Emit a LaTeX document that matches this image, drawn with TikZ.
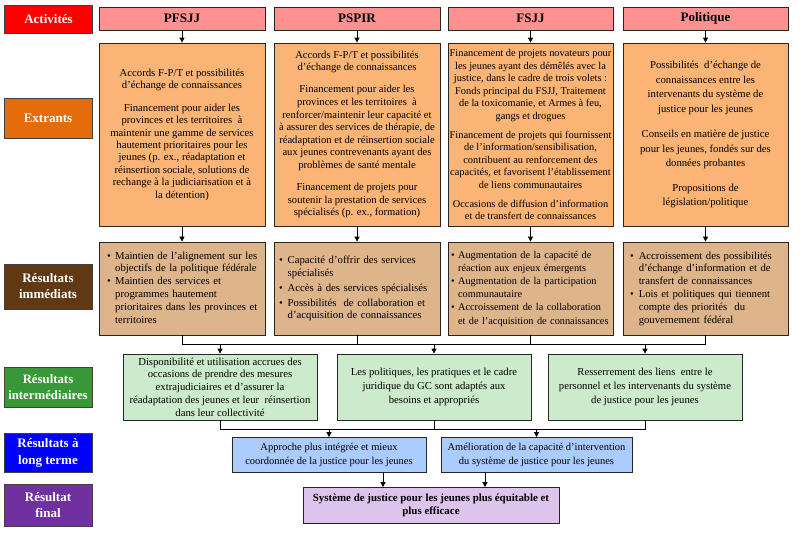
\documentclass[tikz,border=0pt]{standalone}
\usepackage{fontspec}
\setmainfont{Liberation Serif}
\usetikzlibrary{arrows.meta,calc}
\definecolor{cRed}{RGB}{255,0,0}
\definecolor{cPink}{RGB}{255,145,145}
\definecolor{cOrange}{RGB}{228,108,10}
\definecolor{cOut}{RGB}{250,180,117}
\definecolor{cBrown}{RGB}{96,56,19}
\definecolor{cTan}{RGB}{222,180,139}
\definecolor{cGreen}{RGB}{56,152,56}
\definecolor{cLGreen}{RGB}{204,235,204}
\definecolor{cBlue}{RGB}{0,0,255}
\definecolor{cLBlue}{RGB}{170,204,255}
\definecolor{cPurple}{RGB}{112,48,160}
\definecolor{cLPurple}{RGB}{220,196,236}
\newcommand{\mybul}{\textbullet}
\begin{document}
\begin{tikzpicture}[x=1pt,y=-1pt,
  base/.style={draw=black!85, line width=0.8pt, inner sep=0pt, align=center, font=\fontsize{10.7}{12.4}\selectfont},
  lab/.style={base, draw=black!75, line width=1pt, fill=#1, text=white, minimum width=88pt, font=\bfseries\fontsize{13}{16}\selectfont},
  hdr/.style={base, fill=cPink, minimum height=23pt, font=\bfseries\fontsize{13}{15}\selectfont},
  outbox/.style={base, fill=cOut, minimum height=183pt},
  imm/.style={base, fill=cTan, minimum height=93pt, align=left, font=\fontsize{10.7}{12.8}\selectfont},
  inter/.style={base, fill=cLGreen, minimum width=194pt, minimum height=66pt},
  longt/.style={base, fill=cLBlue, minimum height=35pt, font=\fontsize{10.5}{14.5}\selectfont},
  finbox/.style={base, fill=cLPurple, minimum height=36pt, font=\bfseries\fontsize{10.9}{13}\selectfont},
  conn/.style={draw=black, line width=0.8pt},
  arr/.style={conn, -{Triangle[length=5pt,width=5pt]}}
]
\useasboundingbox (0,0) rectangle (800,541);
\fill[white] (0,0) rectangle (800,541);

% left labels
\node[lab=cRed, minimum height=28pt] (lact) at (48.5,19) {Activités};
\node[lab=cOrange, minimum height=40pt] (lext) at (48,118) {Extrants};
\node[lab=cBrown, minimum height=45pt] (limm) at (48,286.5) {Résultats\\immédiats};
\node[lab=cGreen, minimum height=40pt, font=\bfseries\fontsize{12.8}{16}\selectfont] (lint) at (48,387) {Résultats\\intermédiaires};
\node[lab=cBlue, minimum height=39pt, font=\bfseries\fontsize{13}{17}\selectfont] (llt) at (48,452.5) {Résultats à\\long terme};
\node[lab=cPurple, minimum height=42pt] (lfin) at (48,505) {Résultat\\final};

% headers
\node[hdr, minimum width=166pt] (h1) at (182,18.5) {PFSJJ};
\node[hdr, minimum width=166pt] (h2) at (357,18.5) {PSPIR};
\node[hdr, minimum width=165pt] (h3) at (530.5,18.5) {FSJJ};
\node[hdr, minimum width=165pt] (h4) at (705.5,18.5) {Politique};

% outputs
\node[outbox, minimum width=166pt] (o1) at (182,134.5) {Accords F-P/T et possibilités\\ d’échange de connaissances\\[10.5pt]
Financement pour aider les\\ provinces et les territoires\ \ à\\ maintenir une gamme de services\\ hautement prioritaires pour les\\ jeunes (p. ex., réadaptation et\\ réinsertion sociale, solutions de\\ rechange à la judiciarisation et à\\ la détention)};
\node[outbox, minimum width=166pt, font=\fontsize{10.6}{12.6}\selectfont] (o2) at (357,134.5) {Accords F-P/T et possibilités\\ d’échange de connaissances\\[9.5pt]
Financement pour aider les\\ provinces et les territoires\ \ à\\ renforcer/maintenir leur capacité et\\ à assurer des services de thérapie, de\\ réadaptation et de réinsertion sociale\\ aux jeunes contrevenants ayant des\\ problèmes de santé mentale\\[9.5pt]
Financement de projets pour\\ soutenir la prestation de services\\ spécialisés (p. ex., formation)};
\node[outbox, minimum width=165pt, font=\fontsize{10.4}{12.5}\selectfont] (o3) at (530.5,134.5) {Financement de projets novateurs pour\\ les jeunes ayant des démêlés avec la\\ justice, dans le cadre de trois volets :\\ Fonds principal du FSJJ, Traitement\\ de la toxicomanie, et Armes à feu,\\ gangs et drogues\\[6.5pt]
Financement de projets qui fournissent\\ de l’information/sensibilisation,\\ contribuent au renforcement des\\ capacités, et favorisent l’établissement\\ de liens communautaires\\[6.5pt]
Occasions de diffusion d’information\\ et de transfert de connaissances};
\node[outbox, minimum width=165pt, font=\fontsize{10.7}{14.5}\selectfont] (o4) at (705.5,134.5) {Possibilités\ \ d’échange de\\ connaissances entre les\\ intervenants du système de\\ justice pour les jeunes\\[11pt]
Conseils en matière de justice\\ pour les jeunes, fondés sur des\\ données probantes\\[10pt]
Propositions de\\ législation/politique};

% immediate outcomes
\node[imm, inner xsep=8pt, text width=150pt] (i1) at (182,288.5) {\noindent\begin{tabular}{@{}l@{\hspace{4.5pt}}l@{}}
\mybul & Maintien de l’alignement sur les\\
 & objectifs de la politique fédérale\\
\mybul & Maintien des services et\\
 & programmes hautement\\
 & prioritaires dans les provinces et\\
 & territoires
\end{tabular}};
\node[imm, inner xsep=5pt, text width=156pt] (i2) at (357,288.5) {\noindent\begin{tabular}{@{}l@{\hspace{5pt}}l@{}}
\mybul & Capacité d’offrir des services\\
 & spécialisés\\[2.5pt]
\mybul & Accès à des services spécialisés\\[2pt]
\mybul & Possibilités\ \ de collaboration et\\
 & d’acquisition de connaissances
\end{tabular}};
\node[imm, inner xsep=3pt, text width=159pt, font=\fontsize{10.3}{13.2}\selectfont] (i3) at (530.5,288.5) {\noindent\begin{tabular}{@{}l@{\hspace{3.5pt}}l@{}}
\mybul & Augmentation de la capacité de\\
 & réaction aux enjeux émergents\\
\mybul & Augmentation de la participation\\
 & communautaire\\
\mybul & Accroissement de la collaboration\\
 & et de l’acquisition de connaissances
\end{tabular}};
\node[imm, inner xsep=7pt, text width=151pt] (i4) at (705.5,288.5) {\noindent\begin{tabular}{@{}l@{\hspace{5pt}}l@{}}
\mybul & Accroissement des possibilités\\
 & d’échange d’information et de\\
 & transfert de connaissances\\
\mybul & Lois et politiques qui tiennent\\
 & compte des priorités\ \ du\\
 & gouvernement fédéral
\end{tabular}};

% intermediate outcomes
\node[inter, font=\fontsize{10.7}{12.8}\selectfont] (m1) at (220,387) {Disponibilité et utilisation accrues des\\ occasions de prendre des mesures\\ extrajudiciaires et d’assurer la\\ réadaptation des jeunes et leur\ \ réinsertion\\ dans leur collectivité};
\node[inter, font=\fontsize{10.7}{14}\selectfont] (m2) at (434,387) {Les politiques, les pratiques et le cadre\\ juridique du GC sont adaptés aux\\ besoins et appropriés};
\node[inter, font=\fontsize{10.7}{14}\selectfont] (m3) at (645,387) {Resserrement des liens\ \ entre le\\ personnel et les intervenants du système\\ de justice pour les jeunes};

% long-term outcomes
\node[longt, minimum width=194pt] (t1) at (329,455) {Approche plus intégrée et mieux\\ coordonnée de la justice pour les jeunes};
\node[longt, minimum width=191pt] (t2) at (536.5,455) {Amélioration de la capacité d’intervention\\ du système de justice pour les jeunes};

% final outcome
\node[finbox, minimum width=256pt] (fin) at (431,505.5) {Système de justice pour les jeunes plus équitable et\\ plus efficace};

% connectors
\foreach \k in {1,2,3,4}{
  \draw[arr] (h\k.south) -- (o\k.north);
  \draw[arr] (o\k.south) -- (i\k.north);
}
\coordinate (bus1) at (0,344);
\coordinate (bus2) at (0,429);
\draw[conn] (i1.south) -- (i1.south |- bus1) -- (i4.south |- bus1) -- (i4.south);
\draw[conn] (i2.south) -- (i2.south |- bus1);
\draw[conn] (i3.south) -- (i3.south |- bus1);
\draw[arr] (m1.north |- bus1) -- (m1.north);
\draw[arr] (m2.north |- bus1) -- (m2.north);
\draw[arr] (m3.north |- bus1) -- (m3.north);
\draw[conn] (m1.south) -- (m1.south |- bus2) -- (m3.south |- bus2) -- (m3.south);
\draw[conn] (m2.south) -- (m2.south |- bus2);
\draw[arr] (t1.north |- bus2) -- (t1.north);
\draw[arr] (t2.north |- bus2) -- (t2.north);
\coordinate (fa1) at (383,0);
\coordinate (fa2) at (485,0);
\draw[arr] (t1.south -| fa1) -- (fin.north -| fa1);
\draw[arr] (t2.south -| fa2) -- (fin.north -| fa2);
\end{tikzpicture}
\end{document}
